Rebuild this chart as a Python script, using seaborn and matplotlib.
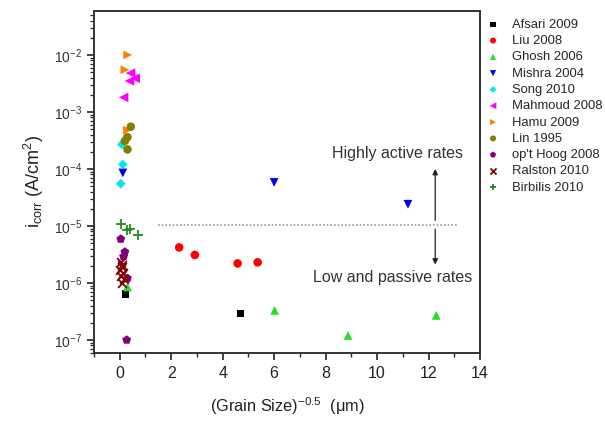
import numpy as np
import pandas as pd
import matplotlib
matplotlib.use("Agg")
import matplotlib.pyplot as plt
import seaborn as sns
from matplotlib.ticker import MultipleLocator, LogLocator

# ---------------- data ----------------
series_names = ["Afsari 2009", "Liu 2008", "Ghosh 2006", "Mishra 2004", "Song 2010",
                "Mahmoud 2008", "Hamu 2009", "Lin 1995", "op't Hoog 2008",
                "Ralston 2010", "Birbilis 2010"]

afsari_x = [0.23, 4.7]
afsari_y = [6.4e-7, 2.9e-7]
liu_x = [2.31, 2.92, 4.58, 5.36]
liu_y = [4.2e-6, 3.1e-6, 2.2e-6, 2.3e-6]
ghosh_x = [0.3, 6.02, 8.87, 12.3]
ghosh_y = [8.5e-7, 3.3e-7, 1.2e-7, 2.7e-7]
mishra_x = [0.12, 6.0, 11.2]
mishra_y = [8.5e-5, 5.8e-5, 2.4e-5]
song_x = [0.08, 0.12, 0.04]
song_y = [2.7e-4, 1.2e-4, 5.5e-5]
mahmoud_x = [0.42, 0.38, 0.6, 0.15]
mahmoud_y = [4.8e-3, 3.5e-3, 3.9e-3, 1.8e-3]
hamu_x = [0.31, 0.2, 0.3]
hamu_y = [1.0e-2, 5.5e-3, 4.8e-4]
lin_x = [0.43, 0.3, 0.2, 0.3]
lin_y = [5.5e-4, 3.6e-4, 3.1e-4, 2.2e-4]
hoog_x = [0.04, 0.2, 0.15, 0.3, 0.27]
hoog_y = [5.9e-6, 3.5e-6, 2.9e-6, 1.2e-6, 1.0e-7]
ralston_x = [0.05, 0.1, 0.0, 0.12, 0.05, 0.15, 0.08, 0.1]
ralston_y = [2.3e-6, 1.9e-6, 1.7e-6, 1.5e-6, 1.3e-6, 1.15e-6, 1.0e-6, 2.1e-6]
birbilis_x = [0.05, 0.3, 0.4, 0.7]
birbilis_y = [1.1e-5, 8.5e-6, 8.8e-6, 6.9e-6]

threshold = 1.05e-5
x_ticks = [0, 2, 4, 6, 8, 10, 12, 14]

all_x = [afsari_x, liu_x, ghosh_x, mishra_x, song_x, mahmoud_x, hamu_x, lin_x,
         hoog_x, ralston_x, birbilis_x]
all_y = [afsari_y, liu_y, ghosh_y, mishra_y, song_y, mahmoud_y, hamu_y, lin_y,
         hoog_y, ralston_y, birbilis_y]

rows = []
for name, xs, ys in zip(series_names, all_x, all_y):
    for xv, yv in zip(xs, ys):
        rows.append({"study": name, "x": xv, "y": yv})
df = pd.DataFrame(rows)

colors = {"Afsari 2009": "#000000", "Liu 2008": "#ff0000", "Ghosh 2006": "#22e022",
          "Mishra 2004": "#0000ff", "Song 2010": "#00e5ee", "Mahmoud 2008": "#ff00ff",
          "Hamu 2009": "#ff8000", "Lin 1995": "#808000", "op't Hoog 2008": "#800080",
          "Ralston 2010": "#800000", "Birbilis 2010": "#228b22"}
markers = {"Afsari 2009": "s", "Liu 2008": "o", "Ghosh 2006": "^", "Mishra 2004": "v",
           "Song 2010": "D", "Mahmoud 2008": "<", "Hamu 2009": ">", "Lin 1995": "o",
           "op't Hoog 2008": "p", "Ralston 2010": "x", "Birbilis 2010": "+"}
sizes = {"s": 28, "o": 38, "^": 40, "v": 40, "D": 24, "<": 48, ">": 40, "p": 45,
         "x": 40, "+": 45}

# ---------------- style ----------------
sns.set_style("ticks")
plt.rcParams["font.family"] = ["Liberation Sans", "DejaVu Sans"]
plt.rcParams["mathtext.default"] = "regular"

fig = plt.figure(figsize=(6.05, 4.21), dpi=100)
ax = fig.add_axes([94 / 605, 1 - 353 / 421, (480 - 94) / 605, (353 - 11) / 421])

for name in series_names:
    sub = df[df["study"] == name]
    m = markers[name]
    kw = dict(data=sub, x="x", y="y", ax=ax, color=colors[name], marker=m,
              s=sizes[m], label=name, zorder=3)
    if m in ("x", "+"):
        kw["linewidth"] = 1.3
    else:
        kw["edgecolor"] = "none"
    sns.scatterplot(**kw)

ax.set_yscale("log")
ax.set_xlim(-1, 14)
ax.set_ylim(5.9e-8, 5.9e-2)
ax.set_xticks(x_ticks)
ax.xaxis.set_minor_locator(MultipleLocator(1))
ax.yaxis.set_major_locator(LogLocator(base=10, numticks=20))
ax.yaxis.set_minor_locator(LogLocator(base=10, subs=np.arange(2, 10), numticks=50))

ax.tick_params(axis="x", which="major", labelsize=11.5, length=5, width=1.2,
               colors="#222222", direction="out", pad=4)
ax.tick_params(axis="x", which="minor", length=3, width=1.0, direction="out")
ax.tick_params(axis="y", which="major", labelsize=10, length=5, width=1.2,
               colors="#222222", direction="out", labelcolor="#333333")
ax.tick_params(axis="y", which="minor", length=3, width=0.9, direction="out")
ax.tick_params(top=False, right=False)
for sp in ax.spines.values():
    sp.set_visible(True)
    sp.set_linewidth(1.4)
    sp.set_color("#333333")

ax.set_xlabel("(Grain Size)$^{-0.5}$  (\u03bcm)", fontsize=11.8, color="#222222", labelpad=11)
ax.set_ylabel("i$_{corr}$ (A/cm$^{2}$)", fontsize=13, color="#222222", labelpad=6)

# threshold dotted line
ax.plot([1.48, 13.15], [threshold, threshold], linestyle=(0, (1, 1.2)), color="#999999",
        linewidth=1.2, zorder=2)

# arrows
ax.annotate("", xy=(12.26, 1.0e-4), xytext=(12.26, 1.25e-5),
            arrowprops=dict(arrowstyle="-|>", color="#222222", lw=0.9,
                            mutation_scale=8, shrinkA=0, shrinkB=0))
ax.annotate("", xy=(12.26, 2.1e-6), xytext=(12.26, 8.8e-6),
            arrowprops=dict(arrowstyle="-|>", color="#222222", lw=0.9,
                            mutation_scale=8, shrinkA=0, shrinkB=0))
ax.text(10.8, 1.9e-4, "Highly active rates", ha="center", va="center",
        fontsize=11.5, color="#333333")
ax.text(10.6, 1.26e-6, "Low and passive rates", ha="center", va="center",
        fontsize=11.5, color="#333333")

leg_handles, leg_labels = ax.get_legend_handles_labels()
if ax.legend_ is not None:
    ax.legend_.remove()
fig.legend(leg_handles, leg_labels, loc="upper left",
           bbox_to_anchor=(486.5 / 605, 1 - 18.5 / 421),
           frameon=False, fontsize=9.4, labelspacing=0.32, handletextpad=0.95,
           handlelength=1.0, markerscale=0.7, borderaxespad=0, borderpad=0)

fig.savefig("out.png", dpi=100)
